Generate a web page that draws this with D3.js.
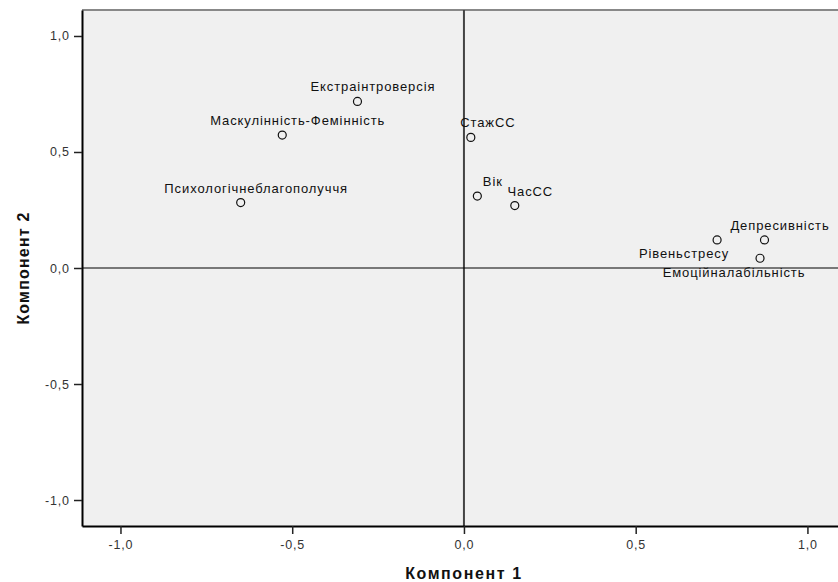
<!DOCTYPE html>
<html><head><meta charset="utf-8">
<script src="https://cdn.jsdelivr.net/npm/d3@7/dist/d3.min.js"></script>
<style>body{margin:0;background:#fff}svg text{font-family:"Liberation Sans",Arial,sans-serif}</style>
</head><body><svg id="c" width="838" height="582"></svg>
<script>
const names = ["Екстраінтроверсія","Маскулінність-Фемінність","Психологічнеблагополуччя","СтажСС","Вік","ЧасСС","Рівеньстресу","Депресивність","Емоційналабільність"];
const comp1 = [-0.31,-0.529,-0.65,0.02,0.039,0.148,0.737,0.875,0.862];
const comp2 = [0.718,0.573,0.282,0.563,0.31,0.269,0.121,0.121,0.042];
const ticks = [-1.0,-0.5,0.0,0.5,1.0];

const svg = d3.select("#c");
const L=82, R=838, T=10, B=526;
const x = d3.scaleLinear().domain([-1.112,1.089]).range([L,R]);
const y = d3.scaleLinear().domain([-1.112,1.112]).range([B,T]);
const fmt = d => d3.format(".1f")(d).replace(".",",").replace("−","-");

svg.append("rect").attr("x",L).attr("y",T).attr("width",R-L).attr("height",B-T).attr("fill","#f0f0f0");
svg.append("line").attr("x1",L).attr("x2",R).attr("y1",T).attr("y2",T).attr("stroke","#888").attr("stroke-width",2);

// reference lines
svg.append("line").attr("x1",x(0)).attr("x2",x(0)).attr("y1",T).attr("y2",B).attr("stroke","#444").attr("stroke-width",2);
svg.append("line").attr("x1",L).attr("x2",R).attr("y1",y(0)).attr("y2",y(0)).attr("stroke","#000").attr("stroke-width",1);

const xa = svg.append("g").attr("transform",`translate(0,${B})`)
  .call(d3.axisBottom(x).tickValues(ticks).tickFormat(fmt).tickSize(8).tickSizeOuter(0));
const ya = svg.append("g").attr("transform",`translate(${L},0)`)
  .call(d3.axisLeft(y).tickValues(ticks).tickFormat(fmt).tickSize(8).tickSizeOuter(0));
[xa,ya].forEach(a=>{a.selectAll("path").attr("stroke","#000").attr("stroke-width",2);
  a.selectAll("line").attr("stroke","#222").attr("stroke-width",1.5);
  a.selectAll("text").attr("font-size",12.5).attr("letter-spacing",0.8).attr("fill","#333").attr("font-family","Liberation Sans, Arial, sans-serif");});
xa.selectAll("text").attr("y",null).attr("dy",null).attr("y",23);
ya.selectAll("text").attr("dx","-0.1em");

svg.append("text").attr("x",(x(-1)+x(1))/2).attr("y",579).attr("text-anchor","middle")
  .attr("font-size",16).attr("letter-spacing",1.6).attr("font-weight","bold").attr("fill","#111").text("Компонент 1");
svg.append("text").attr("transform",`translate(29,${y(0)}) rotate(-90)`).attr("text-anchor","middle")
  .attr("font-size",16).attr("letter-spacing",1.2).attr("font-weight","bold").attr("fill","#111").text("Компонент 2");

const labelStyle = {
  "Рівеньстресу": {anchor:"end", dx:12, dy:18},
  "Емоційналабільність": {anchor:"middle", dx:-26, dy:19},
  "СтажСС": {anchor:"middle", dx:17, dy:-10}
};
const pts = names.map((n,i)=>({n, a:comp1[i], b:comp2[i]}));
const g = svg.append("g");
g.selectAll("circle").data(pts).join("circle")
  .attr("cx",d=>x(d.a)).attr("cy",d=>y(d.b)).attr("r",4)
  .attr("fill","none").attr("stroke","#111").attr("stroke-width",1.2);
g.selectAll("text").data(pts).join("text")
  .attr("x",d=>x(d.a)+(labelStyle[d.n]?labelStyle[d.n].dx:15.5))
  .attr("y",d=>y(d.b)+(labelStyle[d.n]?labelStyle[d.n].dy:-10))
  .attr("text-anchor",d=>labelStyle[d.n]?labelStyle[d.n].anchor:"middle")
  .attr("font-size",13).attr("letter-spacing",0.9).attr("fill","#111").text(d=>d.n);
</script></body></html>
